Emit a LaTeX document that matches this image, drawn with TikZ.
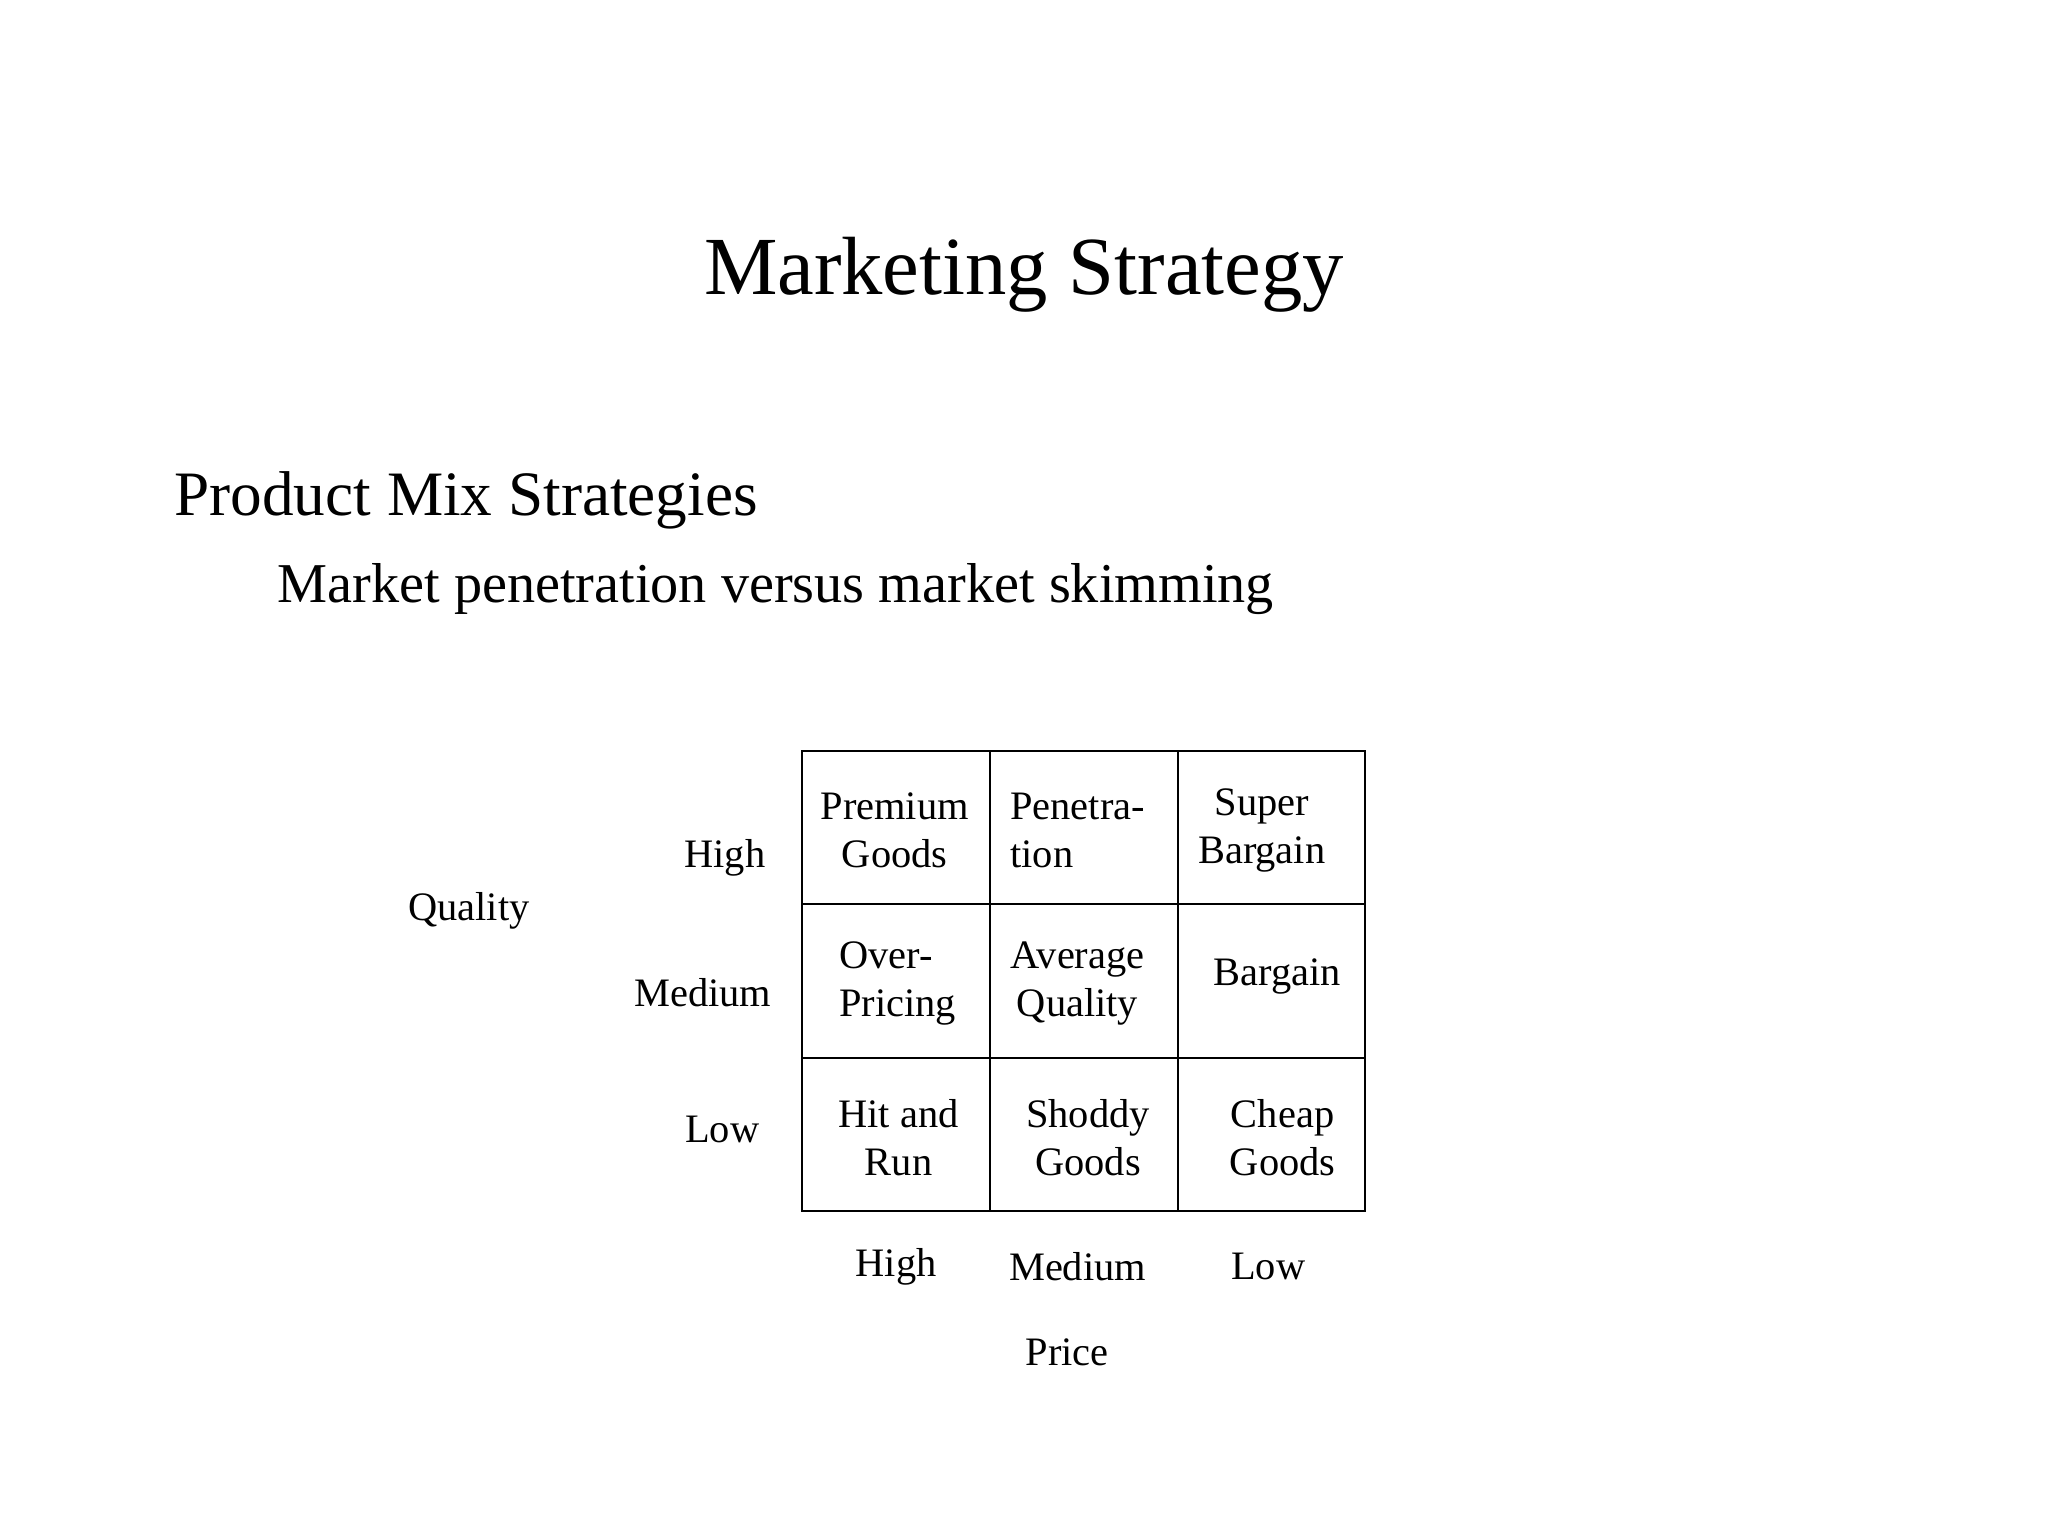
\documentclass[tikz,border=0pt]{standalone}
\usepackage{fontspec}
\setmainfont{Liberation Serif}
\begin{document}
\begin{tikzpicture}[x=0.013061cm,y=-0.013061cm,
  cell/.style={font=\fontsize{11.5}{13.6}\selectfont,align=center,inner sep=0},
  cellL/.style={font=\fontsize{11.5}{13.6}\selectfont,align=left,inner sep=0},
  lab/.style={font=\fontsize{11.5}{13.6}\selectfont,inner sep=0}]
\useasboundingbox (0,0) rectangle (1568,1176);
\node[font=\fontsize{23.5}{28}\selectfont] (title) at (784,210) {Marketing Strategy};
\node[font=\fontsize{18}{22}\selectfont,anchor=west,inner sep=0] (sub) at (133,383) {Product Mix Strategies};
\node[font=\fontsize{16}{19}\selectfont,anchor=west,inner sep=0] (sub2) at (212,451) {Market penetration versus market skimming};
\draw[line width=0.6pt] (614,575) rectangle (1045,927);
\draw[line width=0.6pt] (758,575) -- (758,927) (902,575) -- (902,927) (614,692) -- (1045,692) (614,810) -- (1045,810);
\node[cell] (c11) at (685,636) {Premium\\Goods};
\node[cellL,anchor=west] (c12) at (773,636) {Penetra-\\tion};
\node[cell] (c13) at (966,636) {Super\\Bargain};
\node[cellL,anchor=west] (c21) at (642,753) {Over-\\Pricing};
\node[cell] (c22) at (825,753) {Average\\Quality};
\node[lab] (c23) at (978,748) {Bargain};
\node[cell] (c31) at (688,871) {Hit and\\Run};
\node[cell] (c32) at (833,871) {Shoddy\\Goods};
\node[cell] (c33) at (982,871) {Cheap\\Goods};
\node[lab] (q) at (359,697) {Quality};
\node[lab] (qh) at (555,657) {High};
\node[lab] (qm) at (538,760) {Medium};
\node[lab] (ql) at (553,865) {Low};
\node[lab] (ph) at (686,970) {High};
\node[lab] (pm) at (825,970) {Medium};
\node[lab] (pl) at (971,970) {Low};
\node[lab] (p) at (817,1035) {Price};
\end{tikzpicture}
\end{document}
